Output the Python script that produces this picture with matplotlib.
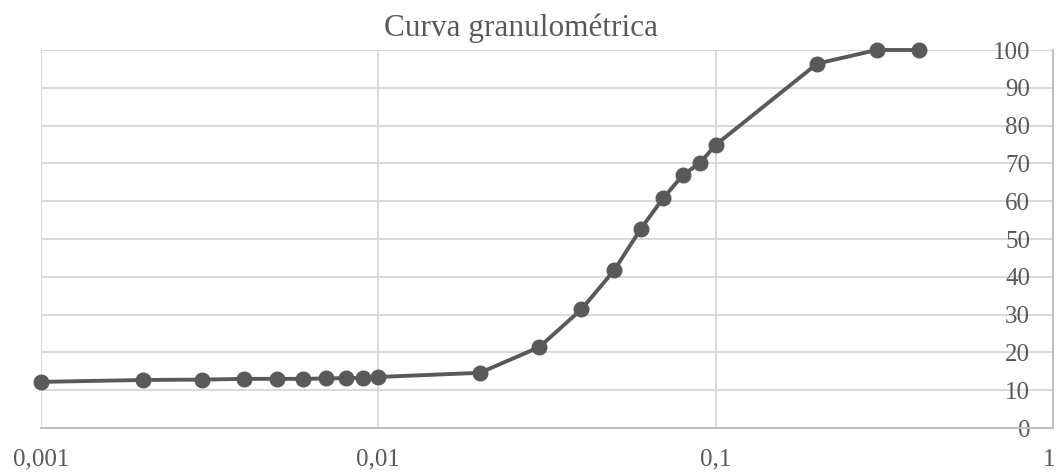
import matplotlib
matplotlib.use("Agg")
import matplotlib.pyplot as plt
import matplotlib.transforms as mtransforms

# Data
diametro = [0.001, 0.002, 0.003, 0.004, 0.005, 0.006, 0.007, 0.008, 0.009, 0.01,
            0.02, 0.03, 0.04, 0.05, 0.06, 0.07, 0.08, 0.09, 0.1,
            0.2, 0.3, 0.4]
pasa = [12.2, 12.7, 12.8, 13.0, 13.0, 13.0, 13.1, 13.2, 13.3, 13.5,
        14.6, 21.4, 31.4, 41.7, 52.7, 60.9, 66.9, 70.2, 74.9,
        96.4, 100, 100]
x_ticks = [0.001, 0.01, 0.1, 1]
x_tick_labels = ["0,001", "0,01", "0,1", "1"]
y_ticks = [0, 10, 20, 30, 40, 50, 60, 70, 80, 90, 100]

plt.rcParams["font.family"] = ["Liberation Serif", "DejaVu Serif"]
txt = "#595959"
grid = "#d9d9d9"

fig = plt.figure(figsize=(10.56, 4.73), dpi=100)
ax = fig.add_axes([41 / 1056, 1 - 428 / 473, (1053 - 41) / 1056, (428 - 50) / 473])

ax.plot(diametro, pasa, color="#595959", linewidth=2.8, marker="o",
        markersize=10.5, clip_on=False, zorder=3)

ax.set_xscale("log")
ax.set_xlim(0.001, 1)
ax.set_ylim(0, 100)
ax.set_xticks(x_ticks)
ax.set_xticklabels(x_tick_labels)
ax.minorticks_off()
ax.set_yticks(y_ticks)

ax.grid(True, color=grid, linewidth=1.4)
ax.set_axisbelow(True)
for s in ["left", "top"]:
    ax.spines[s].set_visible(False)
for s in ["bottom", "right"]:
    ax.spines[s].set_color("#bfbfbf")
    ax.spines[s].set_linewidth(1.5)

ax.tick_params(axis="x", length=0, pad=15, labelsize=18, labelcolor=txt)
ax.tick_params(axis="y", left=False, right=False, labelleft=False,
               labelright=True, length=0, pad=-16.5, labelsize=18, labelcolor=txt)
plt.setp(ax.get_yticklabels(), ha="right")

# nudge the last x label so it stays inside the picture
last = ax.get_xticklabels()[-1]
last.set_transform(last.get_transform() +
                   mtransforms.ScaledTranslation(-3 / 72, 0, fig.dpi_scale_trans))

fig.text(521 / 1056, 1 - 36 / 473, "Curva granulométrica", ha="center",
         va="baseline", fontsize=22.5, color=txt)

fig.savefig("out.png", dpi=100)
